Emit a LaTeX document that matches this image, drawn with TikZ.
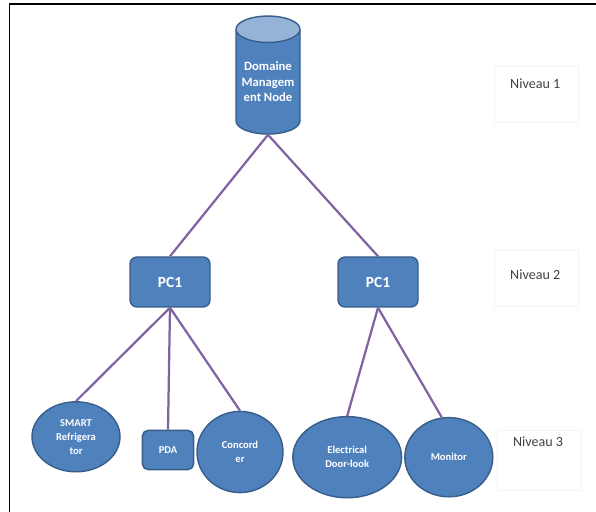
\documentclass[tikz,border=0pt]{standalone}
\usepackage{fontspec}
\setmainfont{Carlito}
\usetikzlibrary{shapes.geometric}
\definecolor{boxblue}{HTML}{4F81BD}
\definecolor{boxedge}{HTML}{385D8A}
\definecolor{boxtop}{HTML}{95B3D7}
\definecolor{linkpurple}{HTML}{8064A2}
\definecolor{leveltext}{HTML}{404040}
\begin{document}
\begin{tikzpicture}[
  dev/.style={ellipse,draw=boxedge,fill=boxblue,line width=1pt,text=white,
    font=\bfseries\fontsize{7.5}{10}\selectfont,align=center,inner sep=0pt},
  pc/.style={rectangle,rounded corners=5pt,draw=boxedge,fill=boxblue,line width=1pt,
    text=white,font=\bfseries\fontsize{11}{13}\selectfont},
  level/.style={draw=black!4,minimum width=2.1cm,minimum height=1.4cm},
  leveltxt/.style={text=leveltext,font=\fontsize{10}{12}\selectfont},
  link/.style={draw=linkpurple,line width=1.6pt}
]
\useasboundingbox (0,0) rectangle (14.9,-12.8);
% frame
\draw[line width=1pt] (0.24,-12.8) |- (14.9,-0.1);
\node[cylinder,shape border rotate=90,aspect=0.5,minimum width=1.6cm,minimum height=2.95cm,
  draw=boxedge,line width=1pt,cylinder uses custom fill,cylinder body fill=boxblue,
  cylinder end fill=boxtop,text=white,font=\bfseries\fontsize{9}{11}\selectfont,align=center,
  inner sep=0pt] (dmn) at (6.7,-2.05) {Domaine\\Managem\\ent Node};
\node[level] (lvl1) at (13.41,-2.36) {};
\node[leveltxt] (lvl1t) at (13.38,-2.1) {Niveau 1};
\node[pc,minimum width=2cm,minimum height=1.25cm] (pcl) at (4.25,-7.05) {PC1};
\node[pc,minimum width=2cm,minimum height=1.25cm] (pcr) at (9.45,-7.05) {PC1};
\node[level] (lvl2) at (13.41,-6.95) {};
\node[leveltxt] (lvl2t) at (13.38,-6.87) {Niveau 2};
\node[dev,minimum width=2.2cm,minimum height=1.75cm] (smart) at (1.9,-10.92) {SMART\\Refrigera\\tor};
\node[pc,rounded corners=4pt,font=\bfseries\fontsize{7.5}{9}\selectfont,
  minimum width=1.28cm,minimum height=0.98cm] (pda) at (4.2,-11.25) {PDA};
\node[dev,minimum width=2.15cm,minimum height=2.03cm] (conc) at (6,-11.3) {Concord\\er};
\node[dev,minimum width=2.72cm,minimum height=2.03cm] (elec) at (8.68,-11.43) {Electrical\\Door-look};
\node[dev,minimum width=2.2cm,minimum height=1.98cm] (mon) at (11.22,-11.43) {Monitor};
\node[level,minimum height=1.5cm] (lvl3) at (13.48,-11.5) {};
\node[leveltxt] (lvl3t) at (13.45,-11.05) {Niveau 3};
\path[link]
  (dmn.south) edge (pcl.north)
  (dmn.south) edge (pcr.north)
  (pcl.south) edge (smart.north)
  (pcl.south) edge (pda.north)
  (pcl.south) edge (conc.north)
  (pcr.south) edge (elec.north)
  (pcr.south) edge (mon.100)
;
\end{tikzpicture}
\end{document}
